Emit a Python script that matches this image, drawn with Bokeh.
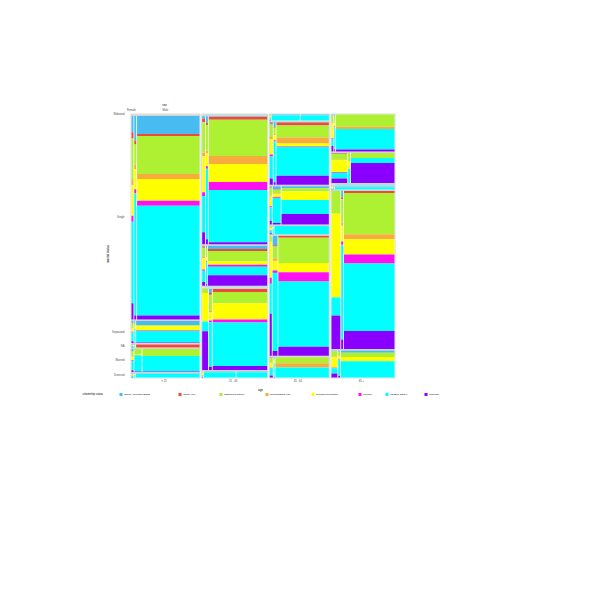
import numpy as np
from bokeh.plotting import figure
from bokeh.models import Range1d
from bokeh.embed import file_html
from bokeh.resources import INLINE
from bokeh.core.properties import value

# ---------------- data ----------------
age_levels = ["< 25", "25 - 44", "45 - 64", "65 +"]
age_counts = [68, 65, 59, 63]

# marital status, listed top -> bottom
marital_levels = ["Widowed", "Single", "Separated", "NA", "Married", "Divorced"]
marital_u25 = [0.0, 204, 22, 3, 23, 4]
marital_25_44 = [0.3, 128, 40, 0.3, 81, 6]
marital_45_64 = [6, 62, 38, 8, 119, 20]
marital_65p = [37, 30, 0.5, 3, 158, 27]

sex_labels = ["Female", "Male"]
# three sub-groups inside every cell (two small, one large)
sub_u25 = [[1, 1, 30], [2, 2, 63], [2, 1, 63], [2, 1, 63], [2, 7, 55], [2, 1, 64]]
sub_25_44 = [[1, 1, 60], [3, 2, 59], [3, 1, 59], [1, 1, 60], [6, 3, 55], [1, 32, 31]]
sub_45_64 = [[1, 28, 28], [3, 2, 52], [2, 8, 47], [2, 1, 54], [2, 5, 51], [3, 1, 54]]
sub_65p = [[2, 1, 59], [16, 2, 44], [1, 1, 60], [1, 1, 60], [9, 2, 51], [6, 2, 54]]

citizen_levels = ["Citizen, Unknown Status", "Illegal Alien", "Naturalized Citizen",
                  "Nonimmigrant Visa", "Permanent Resident", "Refugee",
                  "US Born Citizen", "Unknown"]
citizen_colors = ["#48bcf0", "#ee4a3c", "#aef032", "#f8ac3e", "#ffff00",
                  "#ff10f0", "#00ffff", "#8a00ff"]

# citizenship counts (order of citizen_levels) for the large sub-group of each cell
fill_u25 = [[0, 0, 0, 0, 0, 0, 1, 0],
            [18, 2, 38, 5, 22, 5, 110, 4],
            [4, 0, 1, 0, 4, 0.5, 11, 0.5],
            [0, 3, 0, 0, 0, 0, 0, 0],
            [0, 0, 7, 0, 0, 0, 16, 0.5],
            [0.5, 0, 0, 0, 0, 0, 4, 0]]
fill_25_44 = [[0, 0, 0, 0, 0, 0, 1, 0],
              [0.5, 3, 36, 8, 18, 8, 52, 2],
              [3, 2, 10, 0, 3, 2, 8, 10],
              [0, 0, 0, 0, 0, 0, 1, 0],
              [0, 3, 11, 0, 16, 3, 43, 4],
              [1, 0, 0, 0, 0, 0, 5, 0]]
fill_45_64 = [[1, 0, 0, 0, 0, 0, 5, 0],
              [0.5, 3, 12, 6, 3, 0.5, 29, 9],
              [2, 0, 3, 0, 8, 0, 13, 10],
              [0, 0, 0, 0, 0, 0, 8, 0],
              [0, 2, 25, 0, 9, 9, 64, 9],
              [0, 0, 6, 4, 0, 0, 10, 0]]
fill_65p = [[0, 0, 12, 2, 0, 0, 20, 2],
            [0, 0, 5, 0, 0, 0, 5, 20],
            [0, 0, 0, 0, 0, 0, 1, 0],
            [1, 0, 0, 0, 0, 0, 2, 0],
            [0, 2, 41, 5, 15, 9, 67, 18],
            [2, 0, 4, 0, 4, 0, 15, 0]]

# citizenship counts for the two small sub-groups (per age group)
small1_profile = [[8, 3, 20, 3, 15, 3, 40, 8],
                  [2, 3, 25, 3, 30, 3, 30, 10],
                  [2, 2, 20, 3, 25, 3, 35, 10],
                  [2, 1, 20, 2, 40, 2, 20, 15]]
small2_profile = [[12, 2, 10, 2, 10, 2, 60, 2],
                  [5, 2, 20, 2, 10, 2, 55, 4],
                  [8, 1, 10, 2, 8, 2, 65, 4],
                  [4, 1, 15, 2, 10, 2, 60, 6]]
# cells whose small sub-groups are wide enough to show their own mix
small1_override = {(1, 4): [0, 0, 5, 0, 35, 0, 12, 48],
                   (3, 4): [0, 0, 15, 0, 55, 0, 12, 22],
                   (2, 4): [0, 0, 5, 0, 30, 5, 25, 35]}
small2_override = {(1, 5): [1, 0, 0, 0, 0, 0, 5, 0],
                   (2, 0): [1, 0, 0, 0, 0, 0, 5, 0],
                   (3, 1): [0, 0, 6, 0, 5, 0, 10, 0],
                   (0, 4): [0, 0, 5, 0, 1, 0, 16, 0.5]}

marital_by_age = [marital_u25, marital_25_44, marital_45_64, marital_65p]
sub_by_age = [sub_u25, sub_25_44, sub_45_64, sub_65p]
fill_by_age = [fill_u25, fill_25_44, fill_45_64, fill_65p]

# ---------------- layout (figure pixel space) ----------------
W, H = 584, 584
X0, X1, Y0, Y1 = 131.0, 394.0, 114.0, 377.0
GAP_AGE, GAP_MAR, GAP_SUB = 2.6, 1.5, 0.8
FONT = value("Liberation Sans")
FS = "2.7px"

p = figure(width=W, height=H, output_backend="svg", toolbar_location=None,
           x_range=Range1d(0, W), y_range=Range1d(H, 0),
           x_axis_location=None, y_axis_location=None, min_border=0)
p.grid.visible = False
p.outline_line_color = None
p.background_fill_color = "white"

qL, qR, qT, qB, qC = [], [], [], [], []
fL, fR, fT, fB = [], [], [], []

age_w = np.array(age_counts, float)
avail_x = (X1 - X0) - GAP_AGE * (len(age_levels) - 1)
age_edges = []
x = X0
for ai in range(len(age_levels)):
    w = avail_x * age_w[ai] / age_w.sum()
    age_edges.append((x, x + w))
    x += w + GAP_AGE

row_centers_first = []
sub_centers_first = None
for ai, (xa, xb) in enumerate(age_edges):
    mar = np.array(marital_by_age[ai], float)
    avail_y = (Y1 - Y0) - GAP_MAR * (len(mar) - 1)
    y = Y0
    for mi in range(len(mar)):
        h = avail_y * mar[mi] / mar.sum()
        ya, yb = y, y + h
        y += h + GAP_MAR
        if ai == 0:
            row_centers_first.append((ya + yb) / 2)
        fL.append(xa - 0.5); fR.append(xb + 0.5); fT.append(ya - 0.5); fB.append(yb + 0.5)
        subs = np.array(sub_by_age[ai][mi], float)
        avail_s = (xb - xa) - GAP_SUB * (len(subs) - 1)
        sx = xa
        centers = []
        for si in range(len(subs)):
            sw = avail_s * subs[si] / subs.sum()
            sa, sb = sx, sx + sw
            sx += sw + GAP_SUB
            centers.append((sa, sb))
            if si == 2:
                fills = fill_by_age[ai][mi]
            elif si == 1:
                fills = small2_override.get((ai, mi), small2_profile[ai])
            else:
                fills = small1_override.get((ai, mi), small1_profile[ai])
            fills = np.array(fills, float)
            if h <= 0 or fills.sum() == 0:
                continue
            cy = ya
            for ci in range(len(fills)):
                fh = h * fills[ci] / fills.sum()
                if fh > 0:
                    qL.append(sa); qR.append(sb); qT.append(cy); qB.append(cy + fh)
                    qC.append(citizen_colors[ci])
                cy += fh
        if ai == 0 and mi == 1:
            sub_centers_first = centers

p.quad(left=fL, right=fR, top=fT, bottom=fB, fill_color=None,
       line_color="#c8c8c8", line_width=0.7)
p.quad(left=qL, right=qR, top=qT, bottom=qB, fill_color=qC, line_color=None)

# axis texts
tick_color = "#4d4d4d"
p.text(x=[X0 - 7] * len(marital_levels), y=row_centers_first, text=marital_levels,
       text_font=FONT, text_font_size=FS, text_color=tick_color,
       text_align="right", text_baseline="middle")
small_mid = (sub_centers_first[0][0] + sub_centers_first[1][1]) / 2 - 2.5
big_mid = (sub_centers_first[2][0] + sub_centers_first[2][1]) / 2 - 3
p.text(x=[small_mid, big_mid], y=[Y0 - 4, Y0 - 4], text=sex_labels,
       text_font=FONT, text_font_size=FS, text_color=tick_color,
       text_align="center", text_baseline="middle")
p.text(x=[(X0 + X1) / 2 - 98.5], y=[Y0 - 10], text=["sex"],
       text_font=FONT, text_font_size="3px", text_color="black",
       text_align="center", text_baseline="middle")
p.text(x=[(a + b) / 2 - 1.5 for a, b in age_edges], y=[Y1 + 4] * 4, text=age_levels,
       text_font=FONT, text_font_size=FS, text_color=tick_color,
       text_align="center", text_baseline="middle")
p.text(x=[(X0 + X1) / 2 - 2.5], y=[Y1 + 12], text=["age"],
       text_font=FONT, text_font_size="3px", text_color="black",
       text_align="center", text_baseline="middle")
p.text(x=[X0 - 24], y=[(Y0 + Y1) / 2 + 8], text=["marital status"],
       text_font=FONT, text_font_size="3px", text_color="black",
       text_align="center", text_baseline="middle", angle=np.pi / 2)

# legend
LEG_Y = Y1 + 17
legend_x = [119, 178, 219, 265, 311, 358, 385, 424]
p.text(x=[82], y=[LEG_Y], text=["citizenship status"], text_font=FONT,
       text_font_size="2.7px", text_color="black", text_align="left",
       text_baseline="middle")
p.rect(x=[lx + 1.5 for lx in legend_x], y=[LEG_Y] * 8, width=3, height=3,
       fill_color=citizen_colors, line_color=None)
p.text(x=[lx + 4.5 for lx in legend_x], y=[LEG_Y] * 8, text=citizen_levels,
       text_font=FONT, text_font_size="2.4px", text_color="black",
       text_align="left", text_baseline="middle")

open("out.html", "w").write(file_html(p, INLINE))
